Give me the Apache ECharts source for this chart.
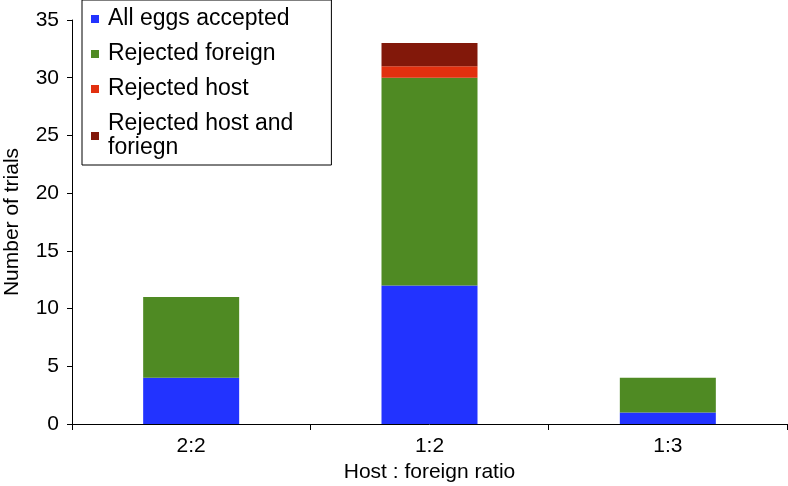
<!DOCTYPE html>
<html><head><meta charset="utf-8">
<script src="https://cdn.jsdelivr.net/npm/echarts@6/dist/echarts.min.js"></script>
<style>html,body{margin:0;padding:0;background:#fff}#c{width:788px;height:486px}</style>
</head><body><div id="c"></div>
<script>
const categories = ['2:2', '1:2', '1:3'];
const allAccepted = [4, 12, 1];
const rejectedForeign = [7, 18, 3];
const rejectedHost = [0, 1, 0];
const rejectedBoth = [0, 2, 0];
const seriesNames = ['All eggs accepted', 'Rejected foreign', 'Rejected host', 'Rejected host and\nforiegn'];
const colors = ['#2233ff', '#4f8a23', '#e2300f', '#82180a'];
const values = [allAccepted, rejectedForeign, rejectedHost, rejectedBoth];
const font = 'Liberation Sans, Arial, sans-serif';

const chart = echarts.init(document.getElementById('c'));
chart.setOption({
  animation: false,
  grid: {left: 72, right: 1, top: 20, bottom: 62, containLabel: false, outerBoundsMode: 'none'},
  legend: {
    orient: 'vertical', left: 82, top: 0,
    padding: [7, 38, 5, 9], itemGap: 11,
    itemWidth: 8, itemHeight: 8,
    borderColor: '#000', borderWidth: 1, backgroundColor: '#fff',
    icon: 'rect',
    textStyle: {fontFamily: font, fontSize: 23, lineHeight: 24, color: '#000', padding: [0, 0, 0, 4]},
    data: seriesNames
  },
  xAxis: {
    type: 'category', data: categories,
    name: 'Host : foreign ratio', nameLocation: 'middle', nameGap: 38,
    nameTextStyle: {fontFamily: font, fontSize: 21, color: '#000'},
    axisLine: {lineStyle: {color: '#000', width: 1}},
    axisTick: {show: true, length: 6, lineStyle: {color: '#000'}},
    axisLabel: {fontFamily: font, fontSize: 21, color: '#000', margin: 12}
  },
  yAxis: {
    type: 'value', min: 0, max: 35, interval: 5,
    name: 'Number of trials', nameLocation: 'middle', nameGap: 49,
    nameTextStyle: {fontFamily: font, fontSize: 21, color: '#000'},
    axisLine: {show: true, lineStyle: {color: '#000', width: 1}},
    axisTick: {show: true, length: 5, lineStyle: {color: '#000'}},
    axisLabel: {fontFamily: font, fontSize: 21, color: '#000', margin: 13},
    splitLine: {show: false}
  },
  series: seriesNames.map((n, i) => ({
    name: n, type: 'bar', stack: 'total', data: values[i],
    barWidth: 96, itemStyle: {color: colors[i]}
  }))
});
</script></body></html>
